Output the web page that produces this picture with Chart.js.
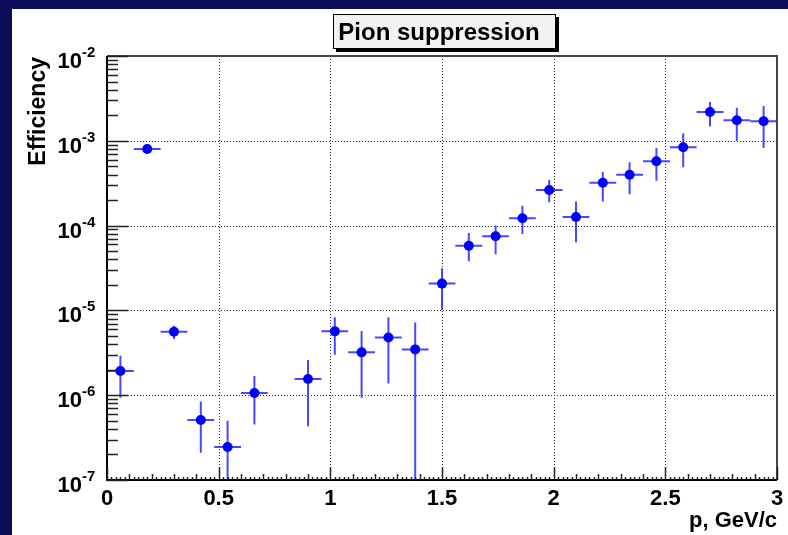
<!DOCTYPE html>
<html>
<head>
<meta charset="utf-8">
<script src="https://cdn.jsdelivr.net/npm/chart.js@4/dist/chart.umd.min.js"></script>
<style>
  html, body { margin: 0; padding: 0; background: #0c0c58; }
  #c { display: block; }
</style>
</head>
<body>
<canvas id="c" width="788" height="535"></canvas>
<script>
// ---- data ----
const titleText = 'Pion suppression';
const xAxisTitle = 'p, GeV/c';
const yAxisTitle = 'Efficiency';
const momentum = [0.06, 0.18, 0.30, 0.42, 0.54, 0.66, 0.90, 1.02, 1.14, 1.26, 1.38, 1.50,
                  1.62, 1.74, 1.86, 1.98, 2.10, 2.22, 2.34, 2.46, 2.58, 2.70, 2.82, 2.94];
const efficiency = [1.93e-6, 8.0e-4, 5.6e-6, 5.1e-7, 2.45e-7, 1.06e-6, 1.55e-6, 5.66e-6, 3.2e-6, 4.8e-6, 3.47e-6, 2.07e-5,
                    5.8e-5, 7.5e-5, 1.22e-4, 2.63e-4, 1.26e-4, 3.2e-4, 3.98e-4, 5.73e-4, 8.4e-4, 2.19e-3, 1.75e-3, 1.70e-3];
const effUpper = [2.92e-6, 9.0e-4, 6.6e-6, 8.4e-7, 5.0e-7, 1.68e-6, 2.6e-6, 8.3e-6, 5.7e-6, 8.3e-6, 7.2e-6, 3.14e-5,
                  8.2e-5, 1.0e-4, 1.72e-4, 3.45e-4, 1.93e-4, 4.3e-4, 5.6e-4, 8.2e-4, 1.23e-3, 2.87e-3, 2.45e-3, 2.57e-3];
const effLower = [9.3e-7, 7.1e-4, 4.6e-6, 2.1e-7, 5e-8, 4.5e-7, 4.3e-7, 3.0e-6, 9.3e-7, 1.37e-6, 5e-8, 1.01e-5,
                  3.8e-5, 4.6e-5, 7.96e-5, 1.88e-4, 6.35e-5, 1.93e-4, 2.34e-4, 3.39e-4, 4.86e-4, 1.47e-3, 9.96e-4, 8.2e-4];
const binHalfWidth = 0.06;
const xTickValues = [0, 0.5, 1, 1.5, 2, 2.5, 3];
const xTickLabels = ['0', '0.5', '1', '1.5', '2', '2.5', '3'];
const yTickExponents = [-2, -3, -4, -5, -6, -7];
const yTickLabelsExp = ['-2', '-3', '-4', '-5', '-6', '-7'];

const FONT = '"Liberation Sans", Arial, Helvetica, sans-serif';

const framePlugin = {
  id: 'rootFrame',
  beforeDraw(chart) {
    const ctx = chart.ctx;
    ctx.save();
    ctx.fillStyle = '#0c0c58';
    ctx.fillRect(0, 0, chart.width, chart.height);
    ctx.fillStyle = '#ffffff';
    ctx.fillRect(12, 9, chart.width - 12, chart.height - 9);
    ctx.restore();
  },
  beforeDatasetsDraw(chart) {
    const ctx = chart.ctx;
    const a = chart.chartArea;
    const xs = chart.scales.x, ys = chart.scales.y;
    ctx.save();
    // grid
    ctx.strokeStyle = '#333';
    ctx.lineWidth = 1;
    ctx.setLineDash([1, 2]);
    xTickValues.forEach(v => {
      if (v <= xs.min || v >= xs.max) return;
      const px = Math.round(xs.getPixelForValue(v)) + 0.5;
      ctx.beginPath(); ctx.moveTo(px, a.top); ctx.lineTo(px, a.bottom); ctx.stroke();
    });
    yTickExponents.forEach(e => {
      const v = Math.pow(10, e);
      if (v <= ys.min * 1.0001 || v >= ys.max * 0.9999) return;
      const py = Math.round(ys.getPixelForValue(v)) + 0.5;
      ctx.beginPath(); ctx.moveTo(a.left, py); ctx.lineTo(a.right, py); ctx.stroke();
    });
    ctx.setLineDash([]);
    // error bars
    ctx.beginPath();
    ctx.rect(a.left, a.top, a.right - a.left, a.bottom - a.top);
    ctx.clip();
    ctx.strokeStyle = 'rgba(40,40,255,0.85)';
    ctx.lineWidth = 2;
    momentum.forEach((m, i) => {
      const px = xs.getPixelForValue(m);
      const py = ys.getPixelForValue(efficiency[i]);
      const x0 = xs.getPixelForValue(m - binHalfWidth);
      const x1 = xs.getPixelForValue(m + binHalfWidth);
      const yHi = ys.getPixelForValue(effUpper[i]);
      const yLo = ys.getPixelForValue(effLower[i]);
      ctx.beginPath();
      ctx.moveTo(x0, py); ctx.lineTo(x1, py);
      ctx.moveTo(px, yHi); ctx.lineTo(px, yLo);
      ctx.stroke();
    });
    ctx.restore();
  },
  afterDraw(chart) {
    const ctx = chart.ctx;
    const a = chart.chartArea;
    const xs = chart.scales.x, ys = chart.scales.y;
    ctx.save();
    // frame
    ctx.strokeStyle = '#444';
    ctx.lineWidth = 2;
    ctx.beginPath();
    ctx.moveTo(a.left, a.top); ctx.lineTo(a.right, a.top); ctx.lineTo(a.right, a.bottom);
    ctx.stroke();
    ctx.strokeStyle = '#000';
    ctx.beginPath();
    ctx.moveTo(a.left, a.top); ctx.lineTo(a.left, a.bottom); ctx.lineTo(a.right, a.bottom);
    ctx.stroke();
    // y ticks (inside)
    ctx.strokeStyle = '#222';
    ctx.lineWidth = 1.5;
    for (let e = -7; e <= -2; e++) {
      for (let k = 1; k <= 9; k++) {
        const v = k * Math.pow(10, e);
        if (v < ys.min * 0.9999 || v > ys.max * 1.0001) continue;
        const py = Math.round(ys.getPixelForValue(v)) + 0.5;
        const len = k === 1 ? 21 : 11;
        ctx.beginPath(); ctx.moveTo(a.left, py); ctx.lineTo(a.left + len, py); ctx.stroke();
      }
    }
    // x ticks (inside)
    for (let j = 0; j <= 150; j++) {
      const v = j * 0.02;
      const px = Math.round(xs.getPixelForValue(v)) + 0.5;
      let len = 3;
      if (j % 25 === 0) len = 13; else if (j % 5 === 0) len = 6;
      ctx.beginPath(); ctx.moveTo(px, a.bottom); ctx.lineTo(px, a.bottom - len); ctx.stroke();
    }
    // tick labels
    ctx.fillStyle = '#000';
    ctx.textBaseline = 'alphabetic';
    xTickValues.forEach((v, i) => {
      const px = xs.getPixelForValue(v);
      ctx.font = 'bold 22px ' + FONT;
      ctx.textAlign = 'center';
      ctx.fillText(xTickLabels[i], px, 505);
    });
    yTickExponents.forEach((e, i) => {
      const py = ys.getPixelForValue(Math.pow(10, e));
      ctx.font = 'bold 22px ' + FONT;
      ctx.textAlign = 'right';
      ctx.fillText('10', 82, py + 12);
      ctx.font = 'bold 15px ' + FONT;
      ctx.textAlign = 'left';
      ctx.fillText(yTickLabelsExp[i], 82, py + 1);
    });
    // axis titles
    ctx.font = 'bold 22px ' + FONT;
    ctx.textAlign = 'right';
    ctx.fillText(xAxisTitle, 777, 527);
    ctx.save();
    ctx.translate(45, 57);
    ctx.rotate(-Math.PI / 2);
    ctx.font = 'bold 23px ' + FONT;
    ctx.textAlign = 'right';
    ctx.fillText(yAxisTitle, 0, 0);
    ctx.restore();
    // title box
    ctx.fillStyle = '#000';
    ctx.fillRect(336, 17, 223, 35);
    ctx.fillStyle = '#f2f2f2';
    ctx.fillRect(333, 14, 223, 35);
    ctx.strokeStyle = '#000';
    ctx.lineWidth = 1;
    ctx.strokeRect(333.5, 14.5, 222, 34);
    ctx.fillStyle = '#000';
    ctx.font = 'bold 24px ' + FONT;
    ctx.textAlign = 'center';
    ctx.fillText(titleText, 439, 40);
    ctx.restore();
  }
};

new Chart(document.getElementById('c'), {
  type: 'scatter',
  data: {
    datasets: [{
      label: 'Pion suppression',
      data: momentum.map((m, i) => ({ x: m, y: efficiency[i] })),
      backgroundColor: '#0000ff',
      borderColor: '#0000ff',
      borderWidth: 0,
      pointRadius: 5,
      pointHoverRadius: 5
    }]
  },
  options: {
    responsive: false,
    animation: false,
    events: [],
    layout: { padding: { left: 107, top: 56, right: 11, bottom: 55 } },
    plugins: { legend: { display: false }, tooltip: { enabled: false }, title: { display: false } },
    scales: {
      x: {
        type: 'linear', min: 0, max: 3,
        ticks: { display: false },
        grid: { display: false },
        border: { display: false },
        afterFit(s) { s.height = 0; }
      },
      y: {
        type: 'logarithmic', min: 1e-7, max: 1e-2,
        ticks: { display: false },
        grid: { display: false },
        border: { display: false },
        afterFit(s) { s.width = 0; }
      }
    }
  },
  plugins: [framePlugin]
});
</script>
</body>
</html>
